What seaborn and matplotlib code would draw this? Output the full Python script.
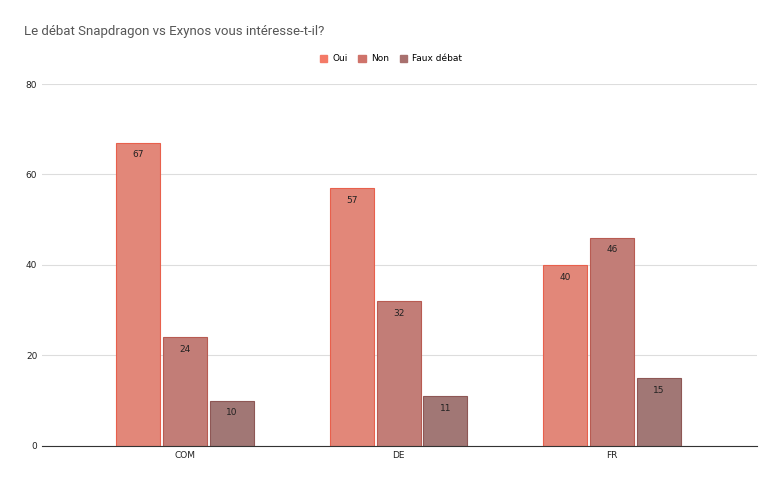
import pandas as pd
import matplotlib.pyplot as plt
import seaborn as sns

categories = ["COM", "DE", "FR"]
series = ["Oui", "Non", "Faux débat"]
oui = [67, 57, 40]
non = [24, 32, 46]
faux = [10, 11, 15]

df = pd.DataFrame({
    "cat": categories * 3,
    "serie": ["Oui"] * 3 + ["Non"] * 3 + ["Faux débat"] * 3,
    "val": oui + non + faux,
})

colors = ["#F47A67", "#CF736A", "#A8706E"]
edges = ["#E8604C", "#B85B52", "#8E5755"]

fig = plt.figure(figsize=(7.82, 4.83), dpi=100)
ax = fig.add_axes([0.054, 0.077, 0.914, 0.749])
sns.barplot(data=df, x="cat", y="val", hue="serie", hue_order=series,
            palette=colors, width=0.66, ax=ax, legend=False)

for i, cont in enumerate(ax.containers):
    for bar in cont:
        bar.set_edgecolor(edges[i])
        bar.set_linewidth(0.8)
        w = bar.get_width()
        bar.set_x(bar.get_x() + 0.007)
        bar.set_width(w - 0.014)
    ax.bar_label(cont, fmt="%d", padding=-12, fontsize=6.5, color="#222222")

ax.set_xlim(-0.67, 2.68)
ax.set_ylim(0, 80)
ax.set_yticks([0, 20, 40, 60, 80])
ax.grid(axis="y", color="#DDDDDD", linewidth=0.8)
ax.set_axisbelow(True)
for s in ["top", "right", "left"]:
    ax.spines[s].set_visible(False)
ax.spines["bottom"].set_color("#333333")
ax.tick_params(length=0, labelsize=6.5, colors="#222222")
ax.set_xlabel("")
ax.set_ylabel("")

fig.text(0.031, 0.928, "Le débat Snapdragon vs Exynos vous intéresse-t-il?",
         fontsize=9.5, color="#555555", family="Roboto")
from matplotlib.patches import Patch
handles = [Patch(facecolor=c, edgecolor=c) for c in colors]
fig.legend(handles, series, loc="center", bbox_to_anchor=(0.50, 0.878), ncol=3,
           frameon=False, fontsize=6.5, handlelength=0.8, handleheight=0.8,
           columnspacing=1.2, handletextpad=0.6)

fig.savefig("out.png", dpi=100)
